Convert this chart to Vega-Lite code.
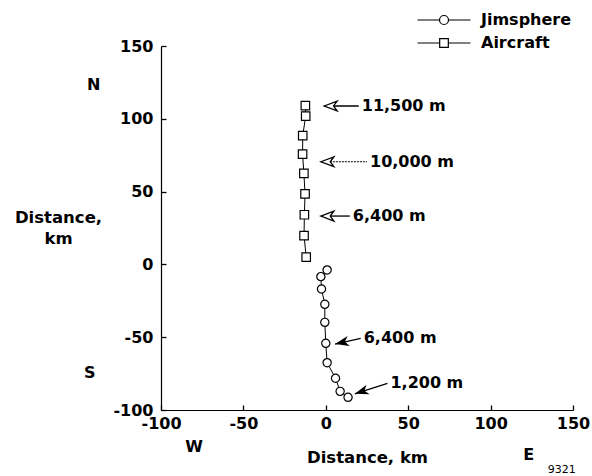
{
  "$schema": "https://vega.github.io/schema/vega-lite/v6.json",
  "width": 412,
  "height": 364,
  "autosize": {"type": "none"},
  "padding": {"left": 161, "top": 46, "right": 19, "bottom": 66},
  "background": "white",
  "config": {
    "view": {"stroke": null},
    "font": "DejaVu Sans",
    "axis": {
      "domainColor": "black",
      "domainWidth": 1.2,
      "tickColor": "black",
      "tickWidth": 1.3,
      "tickSize": -5,
      "grid": false,
      "labelFlush": false,
      "labelExpr": "'' + datum.value",
      "labelFont": "DejaVu Sans",
      "labelFontWeight": "bold",
      "labelFontSize": 16,
      "labelColor": "black",
      "titleFont": "DejaVu Sans",
      "titleFontWeight": "bold",
      "titleFontSize": 16.5,
      "titleColor": "black"
    }
  },
  "datasets": {
    "track": [
      {"series": "Aircraft", "seq": 1, "east": -12.4, "north": 109.0},
      {"series": "Aircraft", "seq": 2, "east": -12.2, "north": 101.8},
      {"series": "Aircraft", "seq": 3, "east": -14.0, "north": 88.5},
      {"series": "Aircraft", "seq": 4, "east": -14.1, "north": 75.7},
      {"series": "Aircraft", "seq": 5, "east": -13.3, "north": 62.5},
      {"series": "Aircraft", "seq": 6, "east": -12.6, "north": 48.5},
      {"series": "Aircraft", "seq": 7, "east": -13.0, "north": 34.1},
      {"series": "Aircraft", "seq": 8, "east": -13.2, "north": 19.8},
      {"series": "Aircraft", "seq": 9, "east": -11.9, "north": 5.0},
      {"series": "Jimsphere", "seq": 1, "east": 0.8, "north": -3.8},
      {"series": "Jimsphere", "seq": 2, "east": -3.0, "north": -8.4},
      {"series": "Jimsphere", "seq": 3, "east": -2.6, "north": -16.9},
      {"series": "Jimsphere", "seq": 4, "east": -0.6, "north": -27.4},
      {"series": "Jimsphere", "seq": 5, "east": -0.6, "north": -39.8},
      {"series": "Jimsphere", "seq": 6, "east": 0.0, "north": -54.2},
      {"series": "Jimsphere", "seq": 7, "east": 0.8, "north": -67.5},
      {"series": "Jimsphere", "seq": 8, "east": 5.9, "north": -78.2},
      {"series": "Jimsphere", "seq": 9, "east": 8.7, "north": -87.2},
      {"series": "Jimsphere", "seq": 10, "east": 13.5, "north": -91.3}
    ],
    "altitudes": [
      {"track": "Aircraft", "label": "11,500 m", "east": -1.0, "north": 108.8, "east2": 20.0, "north2": 108.8},
      {"track": "Aircraft", "label": "10,000 m", "east": -3.0, "north": 70.5, "east2": 25.0, "north2": 70.5},
      {"track": "Aircraft", "label": "6,400 m", "east": -3.0, "north": 33.2, "east2": 14.6, "north2": 33.2},
      {"track": "Jimsphere", "label": "6,400 m", "east": 5.6, "north": -54.7, "east2": 21.2, "north2": -50.8},
      {"track": "Jimsphere", "label": "1,200 m", "east": 17.6, "north": -88.9, "east2": 37.4, "north2": -81.7}
    ],
    "compass": [
      {"text": "N", "east": -140.8, "north": 123.2},
      {"text": "S", "east": -143.2, "north": -74.6},
      {"text": "W", "east": -80.0, "north": -125.4},
      {"text": "E", "east": 123.2, "north": -130.9}
    ],
    "figure": [
      {"text": "9321", "east": 143.2, "north": -141.2}
    ]
  },
  "encoding": {
    "x": {
      "field": "east",
      "type": "quantitative",
      "scale": {"domain": [-100, 150], "nice": false, "zero": false},
      "axis": {
        "values": [-100, -50, 0, 50, 100, 150],
        "title": "Distance, km",
        "labelPadding": 10,
        "titleBaseline": "alphabetic",
        "titleY": 52
      }
    },
    "y": {
      "field": "north",
      "type": "quantitative",
      "scale": {"domain": [-100, 150], "nice": false, "zero": false},
      "axis": {
        "values": [-100, -50, 0, 50, 100, 150],
        "title": ["Distance,", "km"],
        "titleAngle": 0,
        "titleAlign": "center",
        "titleBaseline": "alphabetic",
        "titleX": -103,
        "titleY": 176,
        "titleLineHeight": 21,
        "labelPadding": 13
      }
    }
  },
  "layer": [
    {
      "data": {"name": "track"},
      "mark": {"type": "line", "color": "black", "strokeWidth": 1},
      "encoding": {
        "detail": {"field": "series"},
        "order": {"field": "seq", "type": "quantitative"}
      }
    },
    {
      "data": {"name": "track"},
      "transform": [{"filter": "datum.series === 'Jimsphere'"}],
      "mark": {"type": "point", "shape": "circle", "size": 68, "filled": true, "fill": "white", "stroke": "black", "strokeWidth": 1.2, "opacity": 1}
    },
    {
      "data": {"name": "track"},
      "transform": [{"filter": "datum.series === 'Aircraft'"}],
      "mark": {"type": "point", "shape": "square", "size": 72, "filled": true, "fill": "white", "stroke": "black", "strokeWidth": 1.2, "opacity": 1}
    },
    {
      "data": {"name": "track"},
      "mark": {"type": "point", "opacity": 0},
      "encoding": {
        "shape": {
          "field": "series",
          "type": "nominal",
          "scale": {
            "domain": ["Jimsphere", "Aircraft"],
            "range": [
              "M-3.31,0H-0.56M0.56,0H3.31M-0.56,0A0.56,0.56 0 1,0 0.56,0A0.56,0.56 0 1,0 -0.56,0Z",
              "M-3.31,0H-0.54M0.54,0H3.31M-0.54,-0.54H0.54V0.54H-0.54Z"
            ]
          },
          "legend": {
            "title": null,
            "orient": "none",
            "legendX": 274,
            "legendY": -35,
            "symbolSize": 256,
            "symbolOpacity": 1,
            "symbolFillColor": "white",
            "symbolStrokeColor": "black",
            "symbolStrokeWidth": 1.2,
            "labelFont": "DejaVu Sans",
            "labelFontWeight": "bold",
            "labelFontSize": 16,
            "labelColor": "black",
            "labelOffset": 28,
            "rowPadding": 6
          }
        }
      }
    },
    {
      "data": {"name": "altitudes"},
      "transform": [{"filter": "datum.label !== '10,000 m'"}],
      "mark": {"type": "rule", "color": "black", "strokeWidth": 1.3},
      "encoding": {
        "x2": {"field": "east2"},
        "y2": {"field": "north2"}
      }
    },
    {
      "data": {"name": "altitudes"},
      "transform": [{"filter": "datum.label === '10,000 m'"}],
      "mark": {"type": "rule", "color": "black", "strokeWidth": 1, "strokeDash": [2, 1]},
      "encoding": {
        "x2": {"field": "east2"},
        "y2": {"field": "north2"}
      }
    },
    {
      "data": {"name": "altitudes"},
      "transform": [{"filter": "datum.track === 'Aircraft'"}],
      "mark": {"type": "point", "shape": "M0,0L1,-0.38L0.72,0L1,0.38Z", "size": 676, "filled": true, "fill": "white", "stroke": "black", "strokeWidth": 1.3, "opacity": 1}
    },
    {
      "data": {"name": "altitudes"},
      "transform": [{"filter": "datum.track === 'Jimsphere' && datum.label === '6,400 m'"}],
      "mark": {"type": "point", "shape": "M0,0L1,-0.36L0.72,0L1,0.36Z", "size": 784, "filled": true, "color": "black", "opacity": 1, "angle": 347.5}
    },
    {
      "data": {"name": "altitudes"},
      "transform": [{"filter": "datum.track === 'Jimsphere' && datum.label === '1,200 m'"}],
      "mark": {"type": "point", "shape": "M0,0L1,-0.36L0.72,0L1,0.36Z", "size": 784, "filled": true, "color": "black", "opacity": 1, "angle": 342}
    },
    {
      "data": {"name": "altitudes"},
      "mark": {"type": "text", "align": "left", "baseline": "middle", "dx": 3, "font": "DejaVu Sans", "fontWeight": "bold", "fontSize": 16, "color": "black"},
      "encoding": {
        "x": {"field": "east2", "type": "quantitative"},
        "y": {"field": "north2", "type": "quantitative"},
        "text": {"field": "label"}
      }
    },
    {
      "data": {"name": "compass"},
      "mark": {"type": "text", "align": "center", "baseline": "middle", "font": "DejaVu Sans", "fontWeight": "bold", "fontSize": 16, "color": "black", "clip": false},
      "encoding": {"text": {"field": "text"}}
    },
    {
      "data": {"name": "figure"},
      "mark": {"type": "text", "align": "center", "baseline": "middle", "font": "DejaVu Sans", "fontSize": 11, "color": "black", "clip": false},
      "encoding": {"text": {"field": "text"}}
    }
  ]
}
